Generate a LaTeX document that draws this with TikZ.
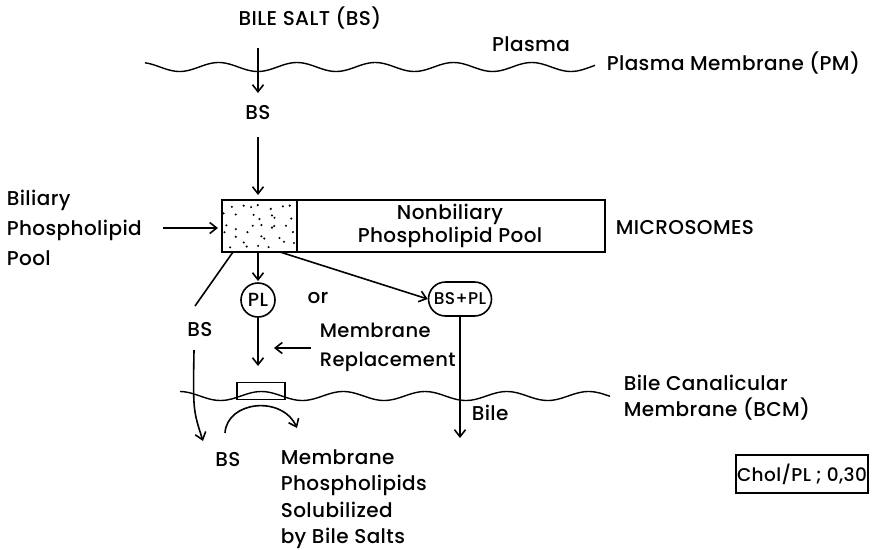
\documentclass[tikz,border=0pt]{standalone}
\usepackage{fontspec}
\setmainfont{Poppins}[UprightFont={* Medium}, LetterSpace=2]
\usetikzlibrary{arrows.meta,shapes.misc,calc}
\begin{document}
\begin{tikzpicture}[x=1pt,y=-1pt, line width=1.6pt,
  >={Straight Barb[length=7pt,width=11pt]},
  lbl/.style={font=\fontsize{20}{30}\selectfont, inner sep=1pt},
  membrane/.style={line width=1.4pt},
]
\useasboundingbox (0,0) rectangle (878,549);
% membranes
\draw[membrane] plot[domain=145:595, samples=150, smooth] (\x,{67+4.5*sin((\x-160)*4.6)});
\draw[membrane] plot[domain=180:610, samples=150, smooth] (\x,{396+4.5*sin((\x-200)*4.4)});
% texts
\node[lbl] (bsalt) at (310,18) {BILE SALT (BS)};
\node[lbl] (plasma) at (531,44) {Plasma};
\node[lbl, anchor=west] (pm) at (605,63) {Plasma Membrane (PM)};
\node[lbl] (bs1) at (258,113) {BS};
\node[lbl, anchor=west, align=left] (bil) at (5,228) {Biliary\\Phospholipid\\Pool};
% microsomes box
\node[draw, minimum width=383, minimum height=52, inner sep=0pt] (mic) at (413.5,226) {};
\node[draw, minimum width=75, minimum height=52, inner sep=0pt] (dots) at (259.5,226) {};
\pgfmathsetseed{5}
\foreach \c in {0,...,6}{
  \foreach \r in {0,...,4}{
    \pgfmathsetmacro{\px}{229+\c*10+6*rand}
    \pgfmathsetmacro{\py}{207+\r*9.5+3.5*rand}
    \fill (\px,\py) circle (1.15pt);
  }
}
\node[lbl, align=center, font=\fontsize{20}{23}\selectfont] (nonb) at (450,226) {Nonbiliary\\Phospholipid Pool};
\node[lbl, anchor=west] (micl) at (614,228) {MICROSOMES};
\node[lbl, draw, circle, minimum size=34, inner sep=0pt, font=\fontsize{19}{20}\selectfont] (pl) at (258,300) {PL};
\node[lbl] (or) at (318,298) {or};
\node[lbl, draw, rounded rectangle, minimum width=65, minimum height=34, inner sep=1pt, font=\fontsize{17}{20}\selectfont] (bspl) at (460,299) {BS+PL};
\node[lbl] (bs2) at (200,330) {BS};
\node[lbl, anchor=west, align=left, font=\fontsize{19.5}{29}\selectfont] (mr) at (318,347) {Membrane\\Replacement};
\node[lbl, anchor=west, align=left, font=\fontsize{20}{26}\selectfont] (bcm) at (622,398) {Bile Canalicular\\Membrane (BCM)};
\node[lbl, anchor=west] (bile) at (470,413) {Bile};
\node[draw, minimum width=48, minimum height=17, inner sep=0pt] (mrect) at (261,391) {};
\node[lbl] (bs3) at (228,460) {BS};
\node[lbl, anchor=west, align=left, font=\fontsize{20}{26.5}\selectfont] (mps) at (279,499) {Membrane\\Phospholipids\\Solubilized\\by Bile Salts};
\node[draw, minimum width=131, minimum height=38, inner sep=1pt, line width=1.2pt, font=\fontsize{18.5}{20}\selectfont] (chol) at (802,474) {Chol/PL ; 0,30};
% coordinates
\coordinate (in0) at (258,48);
\coordinate (in1) at (258,93);
\coordinate (b1) at (258,137);
\coordinate (b2) at (258,195);
\coordinate (bp0) at (163,228);
\coordinate (bp1) at (218,228);
\coordinate (d0) at (258,252);
\coordinate (d1) at (258,281);
\coordinate (e0) at (280,252);
\coordinate (l0) at (233,252);
\coordinate (l1) at (195,306);
\coordinate (l2) at (194,350);
\coordinate (l3) at (203,441);
\coordinate (p1) at (258,366);
\coordinate (r0) at (311,348);
\coordinate (r1) at (274,348);
\coordinate (k1) at (460,438);
\coordinate (a0) at (225,433);
\coordinate (a1) at (297,428);
% connectors
\draw[->] (in0) -- (in1);
\draw[->] (b1) -- (b2);
\draw[->] (bp0) -- (bp1);
\draw[->] (d0) -- (d1);
\draw[->] (e0) -- (bspl.west);
\draw (l0) -- (l1);
\draw[->] (l2) .. controls (193,410) .. (l3);
\draw[->] (pl.south) -- (p1);
\draw[->] (r0) -- (r1);
\draw[->] (bspl.south) -- (k1);
\draw[->] (a0) .. controls (227,401) and (282,395) .. (a1);
\end{tikzpicture}
\end{document}
